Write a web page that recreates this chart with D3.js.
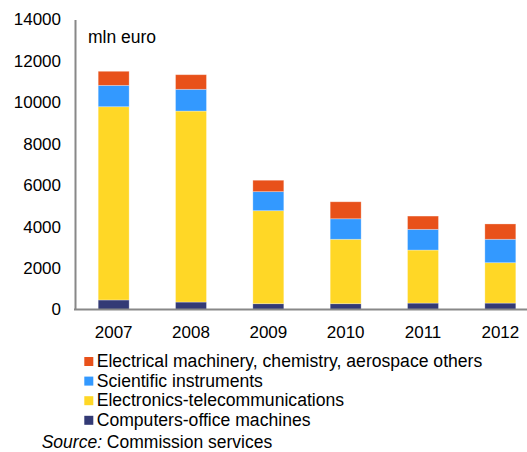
<!DOCTYPE html>
<html><head><meta charset="utf-8">
<script src="https://cdn.jsdelivr.net/npm/d3@7"></script>
<style>
body{margin:0;background:#fff;}
text{font-family:"Liberation Sans",Arial,sans-serif;fill:#000;}
</style></head>
<body><svg id="c" width="527" height="452"></svg>
<script>
const years = ["2007","2008","2009","2010","2011","2012"];
const computers = [460, 360, 280, 280, 310, 310];
const electronics = [9330, 9220, 4490, 3110, 2560, 1950];
const scientific = [1030, 1050, 920, 990, 1000, 1130];
const electrical = [680, 705, 550, 820, 640, 740];
const yTicks = [0, 2000, 4000, 6000, 8000, 10000, 12000, 14000];
const seriesNames = ["Computers-office machines","Electronics-telecommunications","Scientific instruments","Electrical machinery, chemistry, aerospace others"];
const colors = ["#333a75","#ffd726","#3399ff","#e8511a"];
const legendOrder = [3,2,1,0];

const svg = d3.select("#c");
const rows = years.map((y,i)=>({year:y, s0:computers[i], s1:electronics[i], s2:scientific[i], s3:electrical[i]}));
const stack = d3.stack().keys(["s0","s1","s2","s3"])(rows);

const x = d3.scaleBand().domain(years).range([75, 539]).paddingInner(0.6).paddingOuter(0.3);
const y = d3.scaleLinear().domain([0,14000]).range([309.5, 19.5]);

// bars
svg.append("g").selectAll("g").data(stack).join("g")
  .attr("fill",(d,i)=>colors[i])
  .selectAll("rect").data(d=>d).join("rect")
  .attr("x",d=>x(d.data.year))
  .attr("width",x.bandwidth())
  .attr("y",d=>y(d[1]))
  .attr("height",d=>y(d[0])-y(d[1]))
  .attr("stroke","rgba(255,255,255,0.35)").attr("stroke-width",0.8);

// y axis
const ya = svg.append("g").attr("transform","translate(75,0)")
  .call(d3.axisLeft(y).tickValues(yTicks).tickSize(0).tickPadding(14).tickFormat(d3.format("d")));
ya.select(".domain").attr("stroke","#888").attr("stroke-width",2);
ya.selectAll("text").attr("font-size",17).style("font-family","Liberation Sans, Arial, sans-serif");

// x axis
const xa = svg.append("g").attr("transform","translate(0,309.5)")
  .call(d3.axisBottom(x).tickSize(0).tickPadding(16));
xa.select(".domain").attr("stroke","#888").attr("stroke-width",2).attr("d","M74,0H527");
xa.selectAll("text").attr("font-size",17).style("font-family","Liberation Sans, Arial, sans-serif");

svg.append("text").attr("x",88).attr("y",43.3).attr("font-size",17.5).text("mln euro");

// legend
const lg = svg.append("g");
legendOrder.forEach((si,k)=>{
  const base = 367 + k*19.6;
  lg.append("rect").attr("x",84.3).attr("y",base-10).attr("width",9).attr("height",9).attr("fill",colors[si]);
  lg.append("text").attr("x",96.7).attr("y",base).attr("font-size",17.6).text(seriesNames[si]);
});
const src = svg.append("text").attr("x",41.7).attr("y",448).attr("font-size",17.5);
src.append("tspan").attr("font-style","italic").text("Source:");
src.append("tspan").text(" Commission services");
</script></body></html>
